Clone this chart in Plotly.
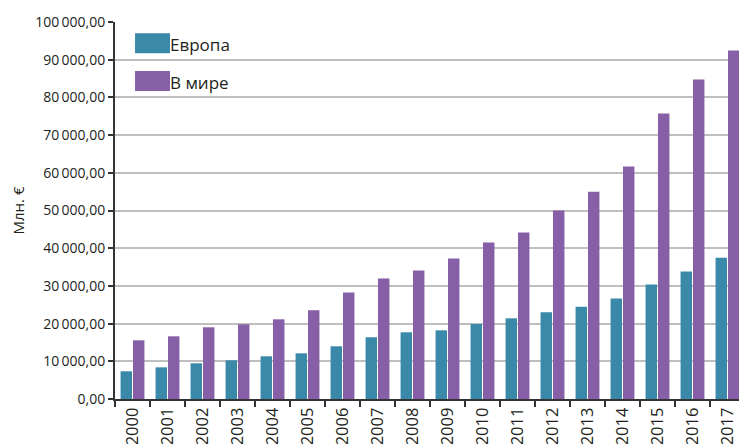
import plotly.graph_objects as go

years = [str(y) for y in range(2000, 2018)]
europe = [7350, 8400, 9470, 10270, 11330, 12120, 13980, 16370, 17690, 18220,
          19900, 21400, 23000, 24500, 26630, 30340, 33800, 37500]
world = [15570, 16630, 19020, 19810, 21140, 23530, 28220, 31940, 34060, 37240,
         41490, 44140, 50000, 55000, 61640, 75700, 84720, 92410]
series_names = ["Европа", "В мире"]
colors = ["#3A89A9", "#875FA6"]
y_title = "Млн. €"

FONT = "Open Sans"
TXT = "#231F20"

fig = go.Figure()
for name, vals, col in zip(series_names, [europe, world], colors):
    fig.add_trace(go.Bar(x=years, y=vals, name=name, marker=dict(color=col, line=dict(width=0)),
                         showlegend=False))

# legend drawn as wide swatches + text (as in the reference)
for i, (name, col) in enumerate(zip(series_names, colors)):
    y0 = 0.97 - i * 0.1
    fig.add_shape(type="rect", xref="paper", yref="paper",
                  x0=0.0318, x1=0.0873, y0=y0 - 0.053, y1=y0, fillcolor=col, line=dict(width=0))
    fig.add_annotation(xref="paper", yref="paper", x=0.084, y=y0 - 0.03, text=name,
                       showarrow=False, xanchor="left", yanchor="middle",
                       font=dict(family=FONT, size=17, color=TXT))

# the page body adds an 8px offset, so the figure is drawn 8px smaller
fig.update_layout(
    width=739, height=436,
    margin=dict(l=107, r=2, t=14, b=44.5),
    paper_bgcolor="white", plot_bgcolor="white",
    barmode="group", bargap=0.29, bargroupgap=0.08,
    separators=",\u2009",
    font=dict(family=FONT, color=TXT),
)
fig.update_xaxes(
    type="category", tickangle=-90, tickson="boundaries",
    ticks="outside", ticklen=6, tickwidth=1.5, tickcolor="#333",
    showline=True, linecolor="#333", linewidth=2,
    tickfont=dict(family=FONT, size=16.5, color=TXT),
    showgrid=False, automargin=False,
)
fig.update_yaxes(
    range=[0, 100000], dtick=10000, tickformat=",.2f",
    ticks="outside", ticklen=5, tickwidth=1.5, tickcolor="#333",
    showline=True, linecolor="#333", linewidth=2,
    gridcolor="#BFBFBF", gridwidth=1.6, zeroline=False,
    tickfont=dict(family=FONT, size=14, color=TXT),
    title=dict(text=y_title, font=dict(family=FONT, size=15, color=TXT), standoff=8),
    automargin=False,
)

fig.write_html("out.html")
